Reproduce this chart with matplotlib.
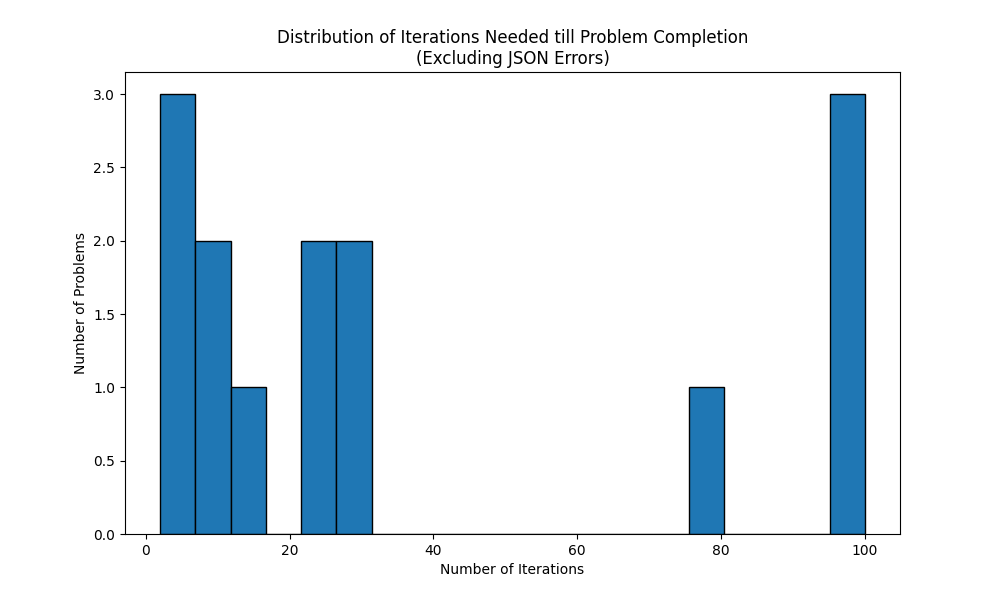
import matplotlib
matplotlib.use("Agg")
import matplotlib.pyplot as plt

# iterations needed per problem
iterations = [2, 3, 5, 8, 10, 15, 22, 25, 27, 30, 78, 100, 100, 100]
n_bins = 20

plt.figure(figsize=(10, 6), dpi=100)
plt.hist(iterations, bins=n_bins, color='#1f77b4', edgecolor='black')
plt.title('Distribution of Iterations Needed till Problem Completion\n(Excluding JSON Errors)')
plt.xlabel('Number of Iterations')
plt.ylabel('Number of Problems')
plt.savefig('out.png')
